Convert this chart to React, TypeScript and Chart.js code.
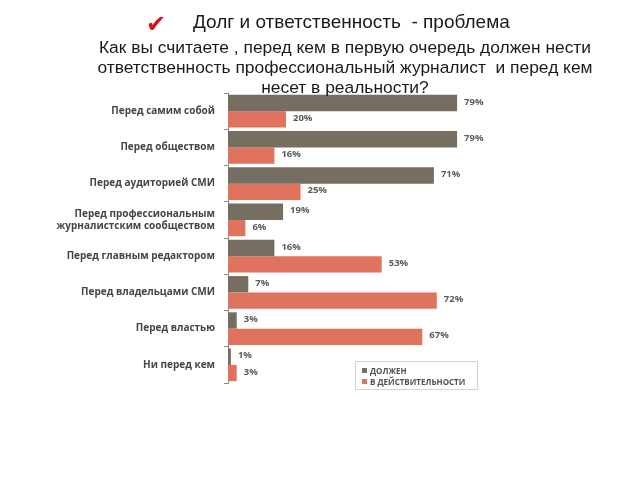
import React, { useEffect, useRef } from "react";
import { Chart, registerables } from "chart.js";

Chart.register(...registerables);

const categories: (string | string[])[] = [
  "Перед самим собой",
  "Перед обществом",
  "Перед аудиторией СМИ",
  ["Перед профессиональным", "журналистским сообществом"],
  "Перед главным редактором",
  "Перед владельцами СМИ",
  "Перед властью",
  "Ни перед кем",
];
const seriesNames = ["ДОЛЖЕН", "В ДЕЙСТВИТЕЛЬНОСТИ"];
const shouldValues = [79, 79, 71, 19, 16, 7, 3, 1];
const actualValues = [20, 16, 25, 6, 53, 72, 67, 3];
const seriesColors = ["#756e61", "#e0735d"];

const titleText = "Долг и ответственность  - проблема";
const subtitleLines = [
  "Как вы считаете , перед кем в первую очередь должен нести",
  "ответственность профессиональный журналист  и перед кем",
  "несет в реальности?",
];

const valueLabelPlugin = {
  id: "valueLabels",
  afterDatasetsDraw(chart: any) {
    const ctx = chart.ctx;
    ctx.save();
    ctx.font = "bold 9.5px 'Open Sans', sans-serif";
    ctx.fillStyle = "#5a5a5a";
    ctx.textBaseline = "middle";
    ctx.textAlign = "left";
    chart.data.datasets.forEach((ds: any, i: number) => {
      const meta = chart.getDatasetMeta(i);
      meta.data.forEach((el: any, j: number) => {
        ctx.fillText(ds.data[j] + "%", el.x + 7, el.y - 1);
      });
    });
    ctx.restore();
  },
};

export default function App() {
  const ref = useRef<HTMLCanvasElement>(null);
  useEffect(() => {
    if (!ref.current) return;
    const chart = new Chart(ref.current, {
      type: "bar",
      data: {
        labels: categories,
        datasets: [
          {
            label: seriesNames[0],
            data: shouldValues,
            backgroundColor: seriesColors[0],
            barPercentage: 1.0,
            categoryPercentage: 0.9,
          },
          {
            label: seriesNames[1],
            data: actualValues,
            backgroundColor: seriesColors[1],
            barPercentage: 1.0,
            categoryPercentage: 0.9,
          },
        ],
      },
      options: {
        indexAxis: "y",
        animation: false,
        responsive: false,
        layout: { padding: { left: 0, top: 93, right: 122, bottom: 97 } },
        plugins: {
          legend: { display: false },
          tooltip: { enabled: false },
          title: { display: false },
        },
        scales: {
          x: { display: false, min: 0, max: 100 },
          y: {
            afterFit(scale: any) {
              scale.width = 228;
            },
            border: { display: true, color: "#8c8c8c", width: 1 },
            grid: {
              display: true,
              drawOnChartArea: false,
              drawTicks: true,
              tickLength: 4,
              color: "#8c8c8c",
              offset: true,
            },
            ticks: {
              color: "#454545",
              padding: 9,
              font: { family: "'Open Sans', sans-serif", size: 10, weight: "bold", lineHeight: 1.2 },
            },
          },
        },
      },
      plugins: [valueLabelPlugin],
    });
    return () => chart.destroy();
  }, []);

  return (
    <div
      style={{
        position: "fixed",
        left: 0,
        top: 0,
        width: 640,
        height: 480,
        background: "#ffffff",
        fontFamily: "'Liberation Sans', Arial, sans-serif",
        overflow: "hidden",
      }}
    >
      <canvas ref={ref} width={640} height={480} style={{ position: "absolute", left: 0, top: 0 }} />
      <div
        style={{
          position: "absolute",
          left: 146,
          top: 11,
          fontSize: 24,
          lineHeight: "26px",
          color: "#d0141e",
          fontStyle: "italic",
          fontFamily: "'DejaVu Sans', sans-serif",
        }}
      >
        ✔
      </div>
      <div
        style={{
          position: "absolute",
          left: 193,
          top: 10,
          fontSize: 19,
          lineHeight: "24px",
          color: "#1a1a1a",
          whiteSpace: "pre",
        }}
      >
        {titleText}
      </div>
      <div
        style={{
          position: "absolute",
          left: 0,
          width: 690,
          top: 37,
          textAlign: "center",
          fontSize: 17.4,
          lineHeight: "20px",
          color: "#1a1a1a",
          whiteSpace: "pre",
        }}
      >
        {subtitleLines.map((l, i) => (
          <div key={i}>{l}</div>
        ))}
      </div>
      <div
        style={{
          position: "absolute",
          left: 355,
          top: 361,
          width: 123,
          height: 29,
          border: "1px solid #d4d4d4",
          boxSizing: "border-box",
          padding: "3px 0 0 6px",
          fontFamily: "'Open Sans', sans-serif",
          fontSize: 8,
          fontWeight: "bold",
          color: "#505050",
          lineHeight: "11px",
        }}
      >
        {seriesNames.map((n, i) => (
          <div key={i} style={{ display: "flex", alignItems: "center" }}>
            <span
              style={{
                display: "inline-block",
                width: 5,
                height: 5,
                background: seriesColors[i],
                marginRight: 3,
              }}
            />
            {n}
          </div>
        ))}
      </div>
    </div>
  );
}
